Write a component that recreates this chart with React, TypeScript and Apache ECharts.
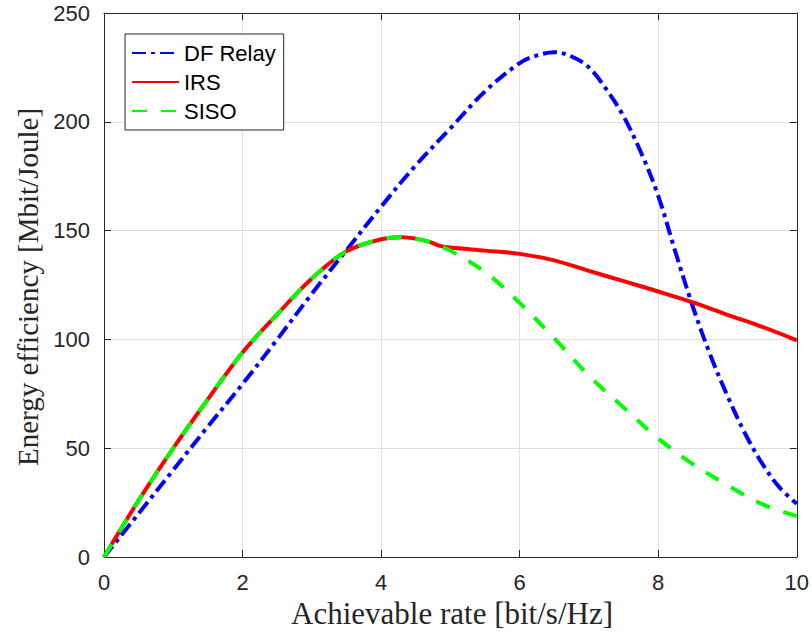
import React, { useEffect, useRef } from "react";
import * as echarts from "echarts";

const xTicks = [0, 2, 4, 6, 8, 10];
const yTicks = [0, 50, 100, 150, 200, 250];

const seriesNames = ["DF Relay", "IRS", "SISO"];

const dfX = [0, 0.5, 1, 1.5, 2, 2.5, 3, 3.5, 4, 4.5, 5, 5.5, 6, 6.25, 6.5, 6.75, 7, 7.25, 7.5, 7.75, 8, 8.25, 8.5, 8.75, 9, 9.25, 9.5, 9.75, 10];
const dfY = [0, 20, 40, 60, 79.5, 100, 121, 141, 161, 180, 197, 214, 227, 230.5, 232, 230, 225, 215, 202.5, 186, 166, 140, 115, 93, 74, 57, 43, 32, 24.5];

const irsX = [0, 0.5, 1, 1.5, 2, 2.5, 3, 3.5, 4, 4.3, 4.5, 4.7, 4.85, 5, 5.5, 6, 6.5, 7, 7.5, 8, 8.5, 9, 9.5, 10];
const irsY = [0, 26, 50, 72.5, 94, 111.5, 128, 140.5, 146, 147, 146.3, 144.8, 143, 142.2, 140.8, 139.3, 136.3, 131.5, 126.8, 122, 117, 111.3, 105.8, 99.6];

const sisoX = [0, 0.5, 1, 1.5, 2, 2.5, 3, 3.5, 4, 4.3, 4.5, 4.7, 4.85, 5, 5.5, 6, 6.5, 7, 7.5, 8, 8.5, 9, 9.5, 10];
const sisoY = [0, 26, 50, 72.5, 94, 111.5, 128, 140.5, 146, 147, 146.3, 144.8, 142.8, 140.8, 131, 116.8, 100.5, 83.3, 68.7, 54.5, 42.7, 33, 24.3, 18.8];

const xLabel = "Achievable rate [bit/s/Hz]";
const yLabel = "Energy efficiency [Mbit/Joule]";

const AXIS = "#262626";
const GRID = "#dfdfdf";

function pairs(xs: number[], ys: number[]) {
  return xs.map((x, i) => [x, ys[i]]);
}

export default function App() {
  const ref = useRef<HTMLDivElement>(null);
  useEffect(() => {
    if (!ref.current) return;
    const chart = echarts.init(ref.current, undefined, { renderer: "svg" });
    const tickFont = { fontFamily: "Liberation Sans, Arial, sans-serif", fontSize: 22, color: AXIS };
    const baseX = { type: "value" as const, min: xTicks[0], max: xTicks[xTicks.length - 1], interval: 2 };
    const baseY = { type: "value" as const, min: yTicks[0], max: yTicks[yTicks.length - 1], interval: 50 };
    chart.setOption({
      animation: false,
      backgroundColor: "#ffffff",
      grid: { left: 104, right: 13, top: 13, bottom: 78, containLabel: false },
      legend: {
        data: seriesNames,
        orient: "vertical",
        left: 125,
        top: 34,
        itemWidth: 47,
        itemHeight: 14,
        itemGap: 7,
        padding: [8, 8, 8, 6],
        backgroundColor: "#ffffff",
        borderColor: AXIS,
        borderWidth: 1,
        borderRadius: 0,
        itemStyle: { opacity: 0, borderWidth: 0 },
        textStyle: { fontFamily: "Liberation Sans, Arial, sans-serif", fontSize: 22, lineHeight: 22, color: "#000000" },
      },
      xAxis: [
        {
          ...baseX,
          position: "bottom",
          axisLine: { show: true, lineStyle: { color: AXIS, width: 1 } },
          axisTick: { show: true, inside: true, length: 7, lineStyle: { color: AXIS } },
          axisLabel: { ...tickFont, margin: 14 },
          splitLine: { show: true, lineStyle: { color: GRID, width: 1 } },
        },
        {
          ...baseX,
          position: "top",
          axisLine: { show: true, onZero: false, lineStyle: { color: AXIS, width: 1 } },
          axisTick: { show: true, inside: true, length: 7, lineStyle: { color: AXIS } },
          axisLabel: { show: false },
          splitLine: { show: false },
        },
      ],
      yAxis: [
        {
          ...baseY,
          position: "left",
          axisLine: { show: true, lineStyle: { color: AXIS, width: 1 } },
          axisTick: { show: true, inside: true, length: 7, lineStyle: { color: AXIS } },
          axisLabel: { ...tickFont, margin: 14 },
          splitLine: { show: true, lineStyle: { color: GRID, width: 1 } },
        },
        {
          ...baseY,
          position: "right",
          axisLine: { show: true, onZero: false, lineStyle: { color: AXIS, width: 1 } },
          axisTick: { show: true, inside: true, length: 7, lineStyle: { color: AXIS } },
          axisLabel: { show: false },
          splitLine: { show: false },
        },
      ],
      graphic: [
        {
          type: "text",
          x: 452,
          y: 613,
          style: {
            text: xLabel,
            font: "31px 'Liberation Serif', 'Times New Roman', serif",
            fill: AXIS,
            textAlign: "center",
            textVerticalAlign: "middle",
          },
        },
        {
          type: "text",
          x: 28,
          y: 287,
          rotation: Math.PI / 2,
          style: {
            text: yLabel,
            font: "29px 'Liberation Serif', 'Times New Roman', serif",
            fill: AXIS,
            textAlign: "center",
            textVerticalAlign: "middle",
          },
        },
      ],
      series: [
        {
          name: seriesNames[0],
          type: "line",
          data: pairs(dfX, dfY),
          showSymbol: false,
          symbol: "none",
          smooth: 0.35,
          lineStyle: { color: "#0000ff", width: 4, type: [14, 5, 4, 5], cap: "butt" },
          itemStyle: { color: "#0000ff" },
          z: 3,
        },
        {
          name: seriesNames[1],
          type: "line",
          data: pairs(irsX, irsY),
          showSymbol: false,
          symbol: "none",
          smooth: 0.35,
          lineStyle: { color: "#ff0000", width: 4, type: "solid" },
          itemStyle: { color: "#ff0000" },
          z: 4,
        },
        {
          name: seriesNames[2],
          type: "line",
          data: pairs(sisoX, sisoY),
          showSymbol: false,
          symbol: "none",
          smooth: 0.35,
          lineStyle: { color: "#00ff00", width: 4, type: [15, 14], cap: "butt" },
          itemStyle: { color: "#00ff00" },
          z: 5,
        },
      ],
    });
    return () => chart.dispose();
  }, []);
  return <div ref={ref} style={{ width: 812, height: 635, position: "absolute", left: 0, top: 0 }} />;
}
